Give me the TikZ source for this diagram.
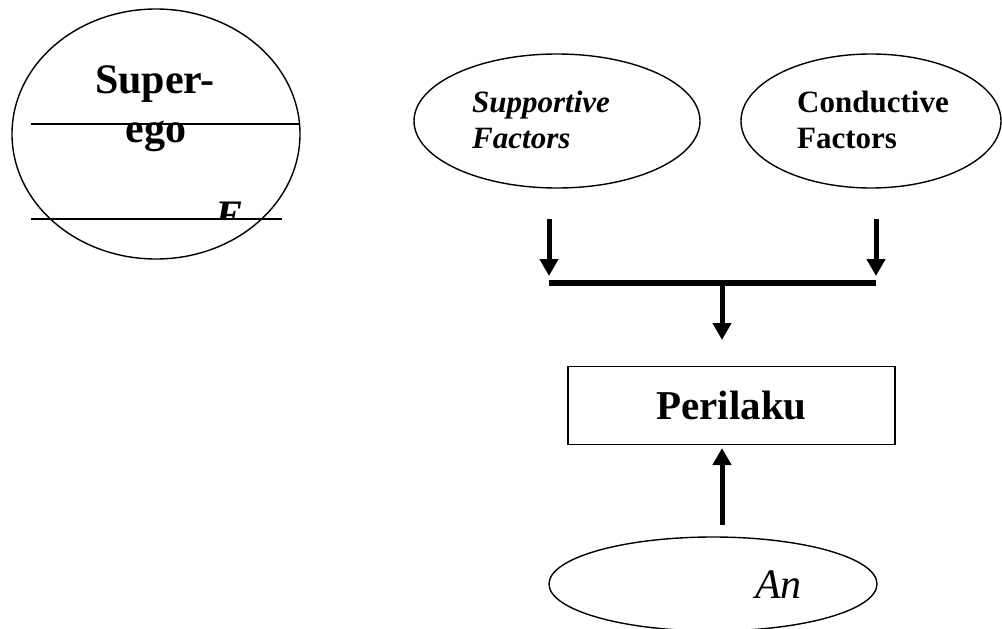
\documentclass[tikz,border=0pt]{standalone}
\usepackage{fontspec}
\setmainfont{Liberation Serif}
\usetikzlibrary{shapes.geometric,arrows.meta}
\tikzset{
  outl/.style={line width=1.4pt},
  oval/.style={draw, ellipse, line width=1.4pt, inner sep=0pt},
  thickarr/.style={line width=5pt, -{Triangle[length=17pt,width=18pt]}},
  barline/.style={line width=6pt},
  lbl/.style={inner sep=0pt, anchor=base west},
}
\begin{document}
\begin{tikzpicture}[x=1pt,y=-1pt]
\useasboundingbox (0,0) rectangle (1002,629);
% left: super-ego diagram
\node[oval, minimum width=288pt, minimum height=250pt] (psy) at (156,134) {};
\node[inner sep=0pt, anchor=base, font=\fontsize{42}{49}\selectfont\bfseries] (sup) at (155,93) {Super-};
\node[inner sep=0pt, anchor=base, font=\fontsize{42}{49}\selectfont\bfseries] (ego) at (156,142) {ego};
\begin{scope}
  \clip (200,180) rectangle (260,218);
  \node[lbl, font=\fontsize{42}{49}\selectfont\bfseries\itshape] (eee) at (215,229) {E};
\end{scope}
\coordinate (l1a) at (31,124);
\coordinate (l1b) at (300,124);
\coordinate (l2a) at (31,219);
\coordinate (l2b) at (282,219);
\draw[outl] (l1a) -- (l1b);
\draw[outl] (l2a) -- (l2b);
% right: factors
\node[oval, minimum width=286pt, minimum height=134pt] (supp) at (557,121) {};
\node[oval, minimum width=260pt, minimum height=134pt] (cond) at (871,121) {};
\node[lbl, font=\fontsize{31}{36}\selectfont\bfseries\itshape] (t1) at (472,112) {Supportive};
\node[lbl, font=\fontsize{31}{36}\selectfont\bfseries\itshape] (t2) at (472,148) {Factors};
\node[lbl, font=\fontsize{31}{36}\selectfont\bfseries] (t3) at (797,112) {Conductive};
\node[lbl, font=\fontsize{31}{36}\selectfont\bfseries] (t4) at (797,148) {Factors};
% junction
\coordinate (sa) at (549,219);
\coordinate (ca) at (876,219);
\coordinate (jl) at (549,283);
\coordinate (jr) at (876,283);
\coordinate (jm) at (722,283);
\coordinate (pt) at (722,366);
\draw[thickarr, shorten >=7pt] (sa) -- (jl);
\draw[thickarr, shorten >=7pt] (ca) -- (jr);
\draw[barline] (jl) -- (jr);
\draw[thickarr, shorten >=26pt] (jm) -- (pt);
% perilaku
\node[draw, outl, minimum width=327pt, minimum height=78pt, inner sep=0pt,
      font=\fontsize{41}{48}\selectfont\bfseries] (per) at (731.5,405.5) {Perilaku};
% An
\node[oval, minimum width=328pt, minimum height=94pt] (an) at (713,584) {};
\node[lbl, font=\fontsize{42}{48}\selectfont\itshape] (ant) at (755,598) {An};
\coordinate (ab) at (722,525);
\draw[thickarr, shorten >=1pt] (ab) -- (722,447);
\end{tikzpicture}
\end{document}
